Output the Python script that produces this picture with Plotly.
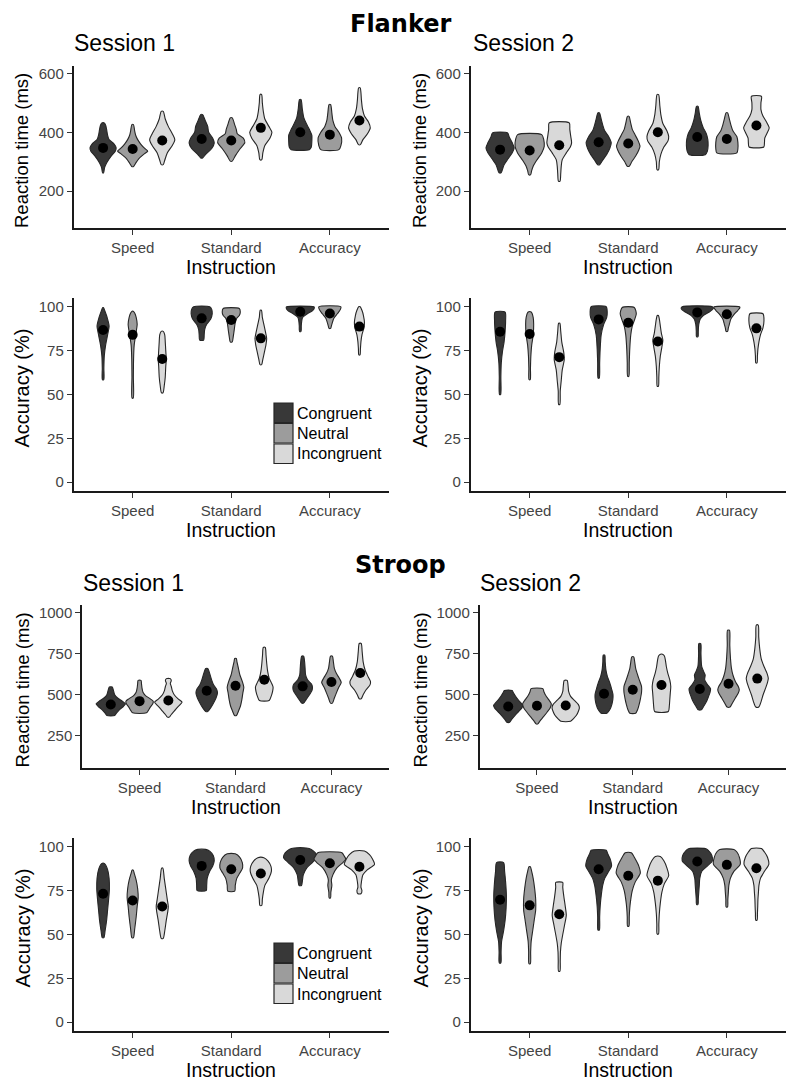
import plotly.graph_objects as go

# page body has an 8px margin, so the figure is drawn 8px in and 16px smaller
PAD = 8
W, H = 800 - 2 * PAD, 1091 - 2 * PAD

instructions = ["Speed", "Standard", "Accuracy"]
conditions = ["Congruent", "Neutral", "Incongruent"]
fills = ["#383838", "#9c9c9c", "#d9d9d9"]

# violin outlines: (values, relative density width)
# order: Speed C/N/I, Standard C/N/I, Accuracy C/N/I
flanker_s1_rt = [
    ([262, 280, 296, 319, 335, 347, 360, 375, 390, 410, 425, 432], [0.5, 1.5, 3.5, 8, 12, 13, 11, 6, 4.5, 3.5, 2.5, 0.8]),
    ([284, 295, 310, 325, 336, 345, 360, 375, 390, 405, 426], [1, 3, 6, 11, 15, 12, 8, 5, 3, 2, 0.8]),
    ([290, 305, 330, 355, 375, 395, 420, 445, 471], [1, 2.5, 5, 10, 12.5, 10, 6, 3, 1]),
    ([313, 325, 345, 364, 380, 400, 420, 440, 460], [1, 4, 10, 12.5, 11, 7, 6, 3.5, 1]),
    ([302, 320, 345, 365, 380, 395, 410, 425, 449], [1, 4, 9, 13.5, 12, 6, 5, 3.5, 1]),
    ([307, 330, 355, 380, 400, 420, 445, 470, 500, 528], [1, 2, 4, 9, 11, 8, 4, 2.5, 1.5, 0.8]),
    ([341, 350, 370, 390, 410, 430, 450, 480, 511], [9, 11, 11.5, 11.5, 9, 6, 3.5, 2, 0.8]),
    ([341, 355, 380, 400, 420, 440, 465, 494], [9, 11, 11.7, 9, 5, 3, 2, 0.8]),
    ([358, 375, 395, 415, 435, 455, 480, 510, 535, 551], [1, 3.5, 8, 10.8, 9, 5, 3, 2, 1.5, 0.8]),
]
flanker_s1_rt_means = [347, 343, 372, 377, 372, 415, 400, 392, 440]

flanker_s2_rt = [
    ([262, 275, 290, 310, 330, 347, 365, 385, 398], [1, 2.5, 4, 8, 12, 14, 12, 9, 7.5]),
    ([256, 270, 285, 305, 330, 352, 375, 392], [1, 2, 3.5, 7, 12, 14.5, 14, 12]),
    ([234, 260, 285, 307, 330, 350, 364, 385, 410, 432], [0.8, 1.5, 2, 3, 7, 11, 12.3, 11.5, 10.5, 10]),
    ([290, 305, 325, 345, 364, 385, 405, 425, 445, 466], [1, 4, 8, 11, 12.5, 10, 6, 4, 2.5, 0.8]),
    ([285, 300, 320, 340, 353, 370, 390, 410, 430, 454], [1, 3.5, 7.5, 10.5, 11.7, 10, 7, 4, 2.5, 0.8]),
    ([273, 300, 325, 350, 370, 386, 405, 430, 460, 490, 528], [0.8, 1.5, 3, 6, 10, 10.8, 9, 5, 3, 2, 0.8]),
    ([324, 335, 355, 375, 395, 415, 440, 465, 488], [8, 10, 10.8, 10.5, 9, 6, 3.5, 2, 0.8]),
    ([330, 345, 365, 385, 405, 425, 445, 466], [10, 11, 11, 10, 6, 4, 2.5, 0.8]),
    ([350, 365, 380, 400, 415, 435, 455, 477, 500, 522], [7.3, 8, 8.3, 11, 12.7, 10, 6.5, 4.5, 4.5, 5]),
]
flanker_s2_rt_means = [341, 338, 356, 366, 362, 400, 384, 377, 423]

flanker_s1_acc = [
    ([58.5, 65, 72, 78, 84, 89, 94, 98, 99.5], [0.7, 0.8, 1.2, 2.5, 4.5, 6, 4, 1.5, 0.5]),
    ([48, 60, 70, 78, 84, 90, 94, 96.5, 97.5], [0.6, 0.7, 0.9, 1.5, 3, 4.5, 3.5, 2, 0.5]),
    ([51, 55, 60, 66, 70, 75, 80, 84, 86], [0.8, 2, 3, 3.5, 4, 3.5, 3, 2.5, 1]),
    ([81, 84, 87, 90, 93, 96, 98.5, 100], [2, 2.5, 3, 5, 9, 10.5, 10, 8]),
    ([80, 83, 87, 91, 93.5, 95, 97, 99], [1, 2, 3, 4, 5.5, 8, 9, 8]),
    ([67, 70, 74, 78, 82, 86, 90, 94, 98], [0.8, 2, 3.5, 5, 5.8, 4.5, 3, 1.5, 0.6]),
    ([86, 89, 92, 94, 96, 98, 99.5, 100], [0.8, 1, 1.5, 2.5, 7, 12.5, 14, 13.5]),
    ([87.7, 89, 91, 93.5, 96, 98.5, 100], [0.8, 1.5, 2.5, 4, 7.5, 10.5, 11]),
    ([72.6, 76, 80, 84, 88, 91, 95, 98, 100], [0.6, 1, 1.5, 2.5, 4.5, 5, 4, 2.5, 0.8]),
]
flanker_s1_acc_means = [86.8, 84, 70.2, 93.4, 92.5, 82, 97.2, 96.2, 88.7]

flanker_s2_acc = [
    ([50, 60, 68, 75, 80, 86, 92, 97], [0.6, 0.8, 1.2, 2.5, 4, 5, 5.5, 5]),
    ([58.5, 65, 72, 78, 84, 90, 94, 97], [0.6, 0.8, 1.2, 2, 3.5, 4, 3.5, 1.5]),
    ([44.3, 52, 58, 64, 70, 74, 80, 86, 90.6], [0.6, 1, 2, 3, 5, 4.5, 2.5, 1.5, 0.6]),
    ([59.4, 68, 76, 84, 90, 94, 97, 100], [0.6, 1, 1.5, 2.5, 5, 8, 8.5, 7.5]),
    ([60.4, 68, 76, 84, 89, 93, 96, 99.6], [0.6, 1, 1.5, 2.5, 4, 6.5, 8, 6]),
    ([54.7, 60, 66, 72, 77, 81, 85, 89, 93, 95], [0.6, 1, 1.5, 2.5, 4, 5, 3.5, 2.5, 1.5, 0.6]),
    ([83, 86, 90, 93, 95, 97, 99, 100], [0.8, 1, 1.5, 3, 6, 12, 16, 15]),
    ([86, 88, 90, 93, 95.5, 98, 99.5, 100], [0.8, 1.5, 2.5, 4, 7, 11, 13, 12.5]),
    ([68, 72, 76, 80, 84, 88, 92, 96], [0.6, 1, 1.5, 2.5, 4, 6.5, 7.5, 6.5]),
]
flanker_s2_acc_means = [85.8, 84.5, 71.3, 92.8, 90.9, 80.2, 96.8, 95.7, 87.7]

stroop_s1_rt = [
    ([374, 390, 410, 430, 445, 460, 480, 500, 520, 547], [4, 6, 9, 13, 15, 12, 7, 4, 3, 1.5]),
    ([390, 405, 425, 445, 460, 475, 495, 515, 540, 565, 587], [7, 9, 11, 13.5, 14, 11, 6, 3.5, 2.5, 2, 1.5]),
    ([364, 380, 400, 425, 440, 455, 475, 500, 525, 550, 570, 585, 598], [1, 3, 6, 9.5, 12, 14, 10, 6, 4, 3, 2, 3, 2]),
    ([398, 420, 450, 480, 510, 535, 560, 590, 620, 659], [1, 4, 7, 9.5, 11, 10, 7, 5, 3.5, 1]),
    ([374, 400, 430, 470, 510, 545, 580, 620, 660, 700, 720], [1, 3, 5, 6.5, 7.5, 8.5, 7, 4.5, 3, 1.5, 0.8]),
    ([465, 490, 520, 547, 575, 600, 640, 690, 740, 787], [5, 7, 8.5, 9, 7, 5, 3.5, 2.5, 1.8, 1]),
    ([449, 470, 500, 525, 547, 565, 590, 620, 660, 700, 734], [1, 3.5, 7, 9.5, 10, 9, 5, 3, 2.5, 2, 1]),
    ([449, 480, 510, 545, 575, 600, 630, 660, 700, 734], [1, 3, 5, 7.5, 10, 8, 5, 3, 2, 1]),
    ([476, 500, 530, 560, 580, 610, 650, 700, 760, 811], [1, 3, 6, 10, 10.5, 8, 5, 3, 2, 1]),
]
stroop_s1_rt_means = [441, 461, 465, 524, 555, 591, 551, 577, 632]

stroop_s2_rt = [
    ([333, 350, 375, 400, 420, 435, 450, 470, 495, 515, 526], [1.5, 3.5, 7, 11, 14, 15, 13, 10, 7, 5, 4]),
    ([323, 340, 365, 395, 420, 445, 470, 495, 520, 537], [1, 3, 6.5, 10.5, 13.5, 14.7, 12, 9, 7, 6]),
    ([339, 355, 375, 400, 420, 440, 465, 490, 520, 550, 587], [5, 8, 11, 13, 14, 13, 9, 5, 3, 2.5, 1.5]),
    ([388, 410, 440, 470, 500, 530, 570, 610, 650, 700, 740], [3, 6, 8, 9, 9.2, 8, 6, 3.5, 2, 1.2, 0.8]),
    ([388, 410, 440, 480, 515, 550, 585, 620, 660, 700, 730], [3, 5, 6.5, 8, 9, 9, 7, 5, 3, 2, 1]),
    ([398, 430, 470, 510, 550, 590, 630, 670, 710, 735, 746], [7, 8, 8.5, 9, 9.5, 8.5, 6.5, 5, 4, 3, 1]),
    ([408, 430, 460, 490, 515, 537, 560, 590, 620, 640, 670, 700, 750, 811], [1.5, 4, 7, 9, 10.5, 11, 8, 5, 5.5, 4, 2, 1.5, 1.2, 1]),
    ([425, 450, 480, 510, 530, 550, 580, 620, 660, 720, 800, 892], [1.5, 4, 7, 10, 11, 10, 7, 4.5, 3, 2, 1.3, 1]),
    ([425, 460, 500, 540, 575, 600, 630, 670, 720, 780, 850, 923], [1.5, 4, 6, 8.5, 10.5, 11.3, 10, 7, 4, 2.5, 1.5, 1]),
]
stroop_s2_rt_means = [429, 433, 435, 506, 530, 559, 535, 567, 598]

stroop_s1_acc = [
    ([48.2, 52, 58, 64, 70, 76, 82, 87, 90.4], [0.8, 2, 3.5, 4.5, 5.5, 6.3, 6, 4.5, 1.5]),
    ([48.2, 53, 60, 66, 71, 76, 81, 85, 86.7], [0.8, 2, 3.5, 4.5, 5.5, 5, 3.5, 1.5, 0.6]),
    ([47.8, 52, 58, 63, 66, 70, 76, 82, 87.8], [1, 2.5, 4, 5.5, 6, 5, 3.5, 2, 0.6]),
    ([75, 78, 82, 86, 89, 92, 95, 97.5, 98.5], [4.5, 5, 5.5, 8, 11, 12.5, 11.5, 8, 4]),
    ([74.7, 78, 82, 85, 88, 91, 94, 96], [3.5, 4, 5.5, 8.5, 11.3, 11, 8.5, 4]),
    ([66.6, 70, 74, 78, 82, 86, 89, 92, 93.8], [1, 1.5, 2.5, 4, 8, 10.5, 10, 7, 3]),
    ([77.9, 80, 84, 88, 91, 94, 96.5, 98.5, 99.3], [1.2, 2, 3, 6.5, 12, 16.7, 15, 11, 6]),
    ([70.9, 74, 78, 81, 84, 88, 91, 93, 95, 96.6], [0.7, 1, 2, 1.5, 3, 7, 13, 15.8, 14, 12]),
    ([73.2, 75, 77, 80, 84, 87, 90, 93, 95.5, 97.6], [1.5, 2.5, 1.5, 2, 3.5, 8, 15, 13, 10, 5]),
]
stroop_s1_acc_means = [73.2, 69.4, 66, 89.1, 87.2, 84.8, 92.5, 90.6, 88.6]

stroop_s2_acc = [
    ([33.8, 40, 46, 52, 58, 65, 72, 80, 86, 91], [0.8, 1, 1.5, 3.5, 5, 6, 6.3, 5.5, 4.5, 3.5]),
    ([33.4, 40, 46, 52, 58, 64, 70, 76, 82, 86, 88.6], [0.7, 1, 1.5, 3, 4.5, 6, 6, 5, 3.5, 2, 0.7]),
    ([29.1, 35, 40, 45, 50, 56, 61, 66, 72, 77, 79.7], [0.7, 1, 1.2, 2, 3.5, 5.5, 7, 6, 4.5, 3.5, 3.5]),
    ([52.5, 60, 66, 72, 78, 82, 86, 89, 93, 96, 98], [0.7, 1, 1.5, 2.5, 4, 6, 10, 12.8, 11.5, 9, 7.5]),
    ([54.8, 60, 65, 70, 75, 80, 85, 89, 93, 96.6], [0.7, 1, 1.5, 2.5, 4, 7, 12, 10.5, 7, 3]),
    ([50.3, 56, 62, 68, 74, 79, 83.5, 88, 92, 94.4], [0.7, 1, 1.5, 2.5, 4, 6.5, 10.8, 9, 6, 2.5]),
    ([67.2, 70, 74, 78, 82, 86, 89, 92, 95, 98, 99], [0.8, 1, 1.5, 2, 2.5, 4.5, 10, 15, 14.5, 11, 8]),
    ([65.7, 70, 74, 78, 82, 86, 90, 94, 97, 98.5], [0.7, 1, 1.5, 2, 3.5, 7, 13.3, 12.5, 10, 7]),
    ([58.2, 62, 66, 70, 74, 78, 82, 86, 90, 94, 97, 99], [0.7, 1, 1.3, 1.5, 2, 2.5, 4, 8, 12.3, 11, 8, 5]),
]
stroop_s2_acc_means = [69.8, 66.6, 61.5, 87.2, 83.5, 80.7, 91.6, 89.7, 87.8]

rt_ticks_flanker = [200, 400, 600]
rt_ticks_stroop = [250, 500, 750, 1000]
acc_ticks = [0, 25, 50, 75, 100]


def px(x, y):
    # page pixel -> paper fraction
    return (x - PAD) / W, 1 - (y - PAD) / H


# panel: data, means, x-extent px, y-extent px, y range, ticks, y title
panels = [
    (flanker_s1_rt, flanker_s1_rt_means, (73.5, 389), (66, 228), [75, 625], rt_ticks_flanker, "Reaction time (ms)"),
    (flanker_s2_rt, flanker_s2_rt_means, (470.5, 786), (66, 228), [75, 625], rt_ticks_flanker, "Reaction time (ms)"),
    (flanker_s1_acc, flanker_s1_acc_means, (73.5, 389), (298, 491), [-5, 105], acc_ticks, "Accuracy (%)"),
    (flanker_s2_acc, flanker_s2_acc_means, (470.5, 786), (298, 491), [-5, 105], acc_ticks, "Accuracy (%)"),
    (stroop_s1_rt, stroop_s1_rt_means, (82, 389), (605, 768), [55, 1045], rt_ticks_stroop, "Reaction time (ms)"),
    (stroop_s2_rt, stroop_s2_rt_means, (479.5, 786), (605, 768), [55, 1045], rt_ticks_stroop, "Reaction time (ms)"),
    (stroop_s1_acc, stroop_s1_acc_means, (73.5, 389), (838, 1031), [-5, 105], acc_ticks, "Accuracy (%)"),
    (stroop_s2_acc, stroop_s2_acc_means, (470.5, 786), (838, 1031), [-5, 105], acc_ticks, "Accuracy (%)"),
]

fig = go.Figure()
annotations = []
shapes = []
offsets = [-0.3, 0, 0.3]
wscale = 1 / 98.0

for i, (data, means, xd, yd, yr, ticks, ytitle) in enumerate(panels):
    n = "" if i == 0 else str(i + 1)
    xs, ys = [], []
    for k, (vals, dens) in enumerate(data):
        c = 1 + k // 3 + offsets[k % 3]
        right = [c + d * wscale for d in dens]
        left = [c - d * wscale for d in dens][::-1]
        xv = right + left + [right[0]]
        yv = list(vals) + list(vals)[::-1] + [vals[0]]
        fig.add_trace(go.Scatter(
            x=xv, y=yv, mode="lines", fill="toself",
            fillcolor=fills[k % 3], line=dict(color="#262626", width=1.1, shape="spline", smoothing=0.7),
            xaxis="x" + n, yaxis="y" + n, showlegend=False, hoverinfo="skip",
        ))
        xs.append(c)
        ys.append(means[k])
    fig.add_trace(go.Scatter(
        x=xs, y=ys, mode="markers", marker=dict(color="black", size=10),
        xaxis="x" + n, yaxis="y" + n, showlegend=False,
    ))

    axis_common = dict(
        showline=True, linecolor="#1a1a1a", linewidth=1.5, ticks="outside",
        ticklen=5, tickwidth=1.2, tickcolor="#333333", showgrid=False, zeroline=False,
        tickfont=dict(family="Liberation Sans, Arial", size=15, color="#444444"),
    )
    x0f, y1f = px(xd[0], yd[0])
    x1f, y0f = px(xd[1], yd[1])
    fig.update_layout({
        "xaxis" + n: dict(domain=[x0f, x1f], range=[0.4, 3.6], tickvals=[1, 2, 3],
                          ticktext=instructions, anchor="y" + n, **axis_common),
        "yaxis" + n: dict(domain=[y0f, y1f], range=yr, tickvals=ticks,
                          anchor="x" + n, **axis_common),
    })

    # axis titles
    ycx = 22 if xd[0] < 400 else 420
    ax_, ay_ = px(ycx, (yd[0] + yd[1]) / 2 + (4 if ytitle.startswith("R") else -6))
    annotations.append(dict(text=ytitle, x=ax_, y=ay_, xref="paper", yref="paper", showarrow=False,
                            textangle=-90, xanchor="center", yanchor="middle",
                            font=dict(size=18.5 if ytitle.startswith("R") else 20, color="black")))
    bx, by = px((xd[0] + xd[1]) / 2, yd[1] + 39)
    annotations.append(dict(text="Instruction", x=bx, y=by, xref="paper", yref="paper", showarrow=False,
                            xanchor="center", yanchor="middle", font=dict(size=19.5, color="black")))

# task titles and session labels
for text, yy in [("Flanker", 24), ("Stroop", 565)]:
    tx, ty = px(400, yy)
    annotations.append(dict(text="<b>" + text + "</b>", x=tx, y=ty, xref="paper", yref="paper",
                            showarrow=False, xanchor="center", yanchor="middle",
                            font=dict(family="DejaVu Sans", size=24, color="black")))
for text, x0, yy in [("Session 1", 72, 43), ("Session 2", 471, 43), ("Session 1", 81, 583), ("Session 2", 478, 583)]:
    tx, ty = px(x0, yy)
    annotations.append(dict(text=text, x=tx, y=ty, xref="paper", yref="paper", showarrow=False,
                            xanchor="left", yanchor="middle", font=dict(size=23, color="black")))

# legends inside the accuracy panels of session 1
for top in [403, 943]:
    for k, name in enumerate(conditions):
        y0 = top + k * 20.5
        x0p, y0p = px(274, y0)
        x1p, y1p = px(293, y0 + 19.5)
        shapes.append(dict(type="rect", xref="paper", yref="paper", x0=x0p, x1=x1p, y0=y1p, y1=y0p,
                           fillcolor=fills[k], line=dict(color="#262626", width=1.2)))
        lx, ly = px(295, y0 + 10)
        annotations.append(dict(text=name, x=lx, y=ly, xref="paper", yref="paper", showarrow=False,
                                xanchor="left", yanchor="middle", font=dict(size=16, color="black")))

fig.update_layout(
    width=W, height=H,
    margin=dict(l=0, r=0, t=0, b=0),
    paper_bgcolor="white", plot_bgcolor="white",
    font=dict(family="Liberation Sans, Arial", color="black"),
    annotations=annotations, shapes=shapes,
    showlegend=False,
)

fig.write_html("out.html")
